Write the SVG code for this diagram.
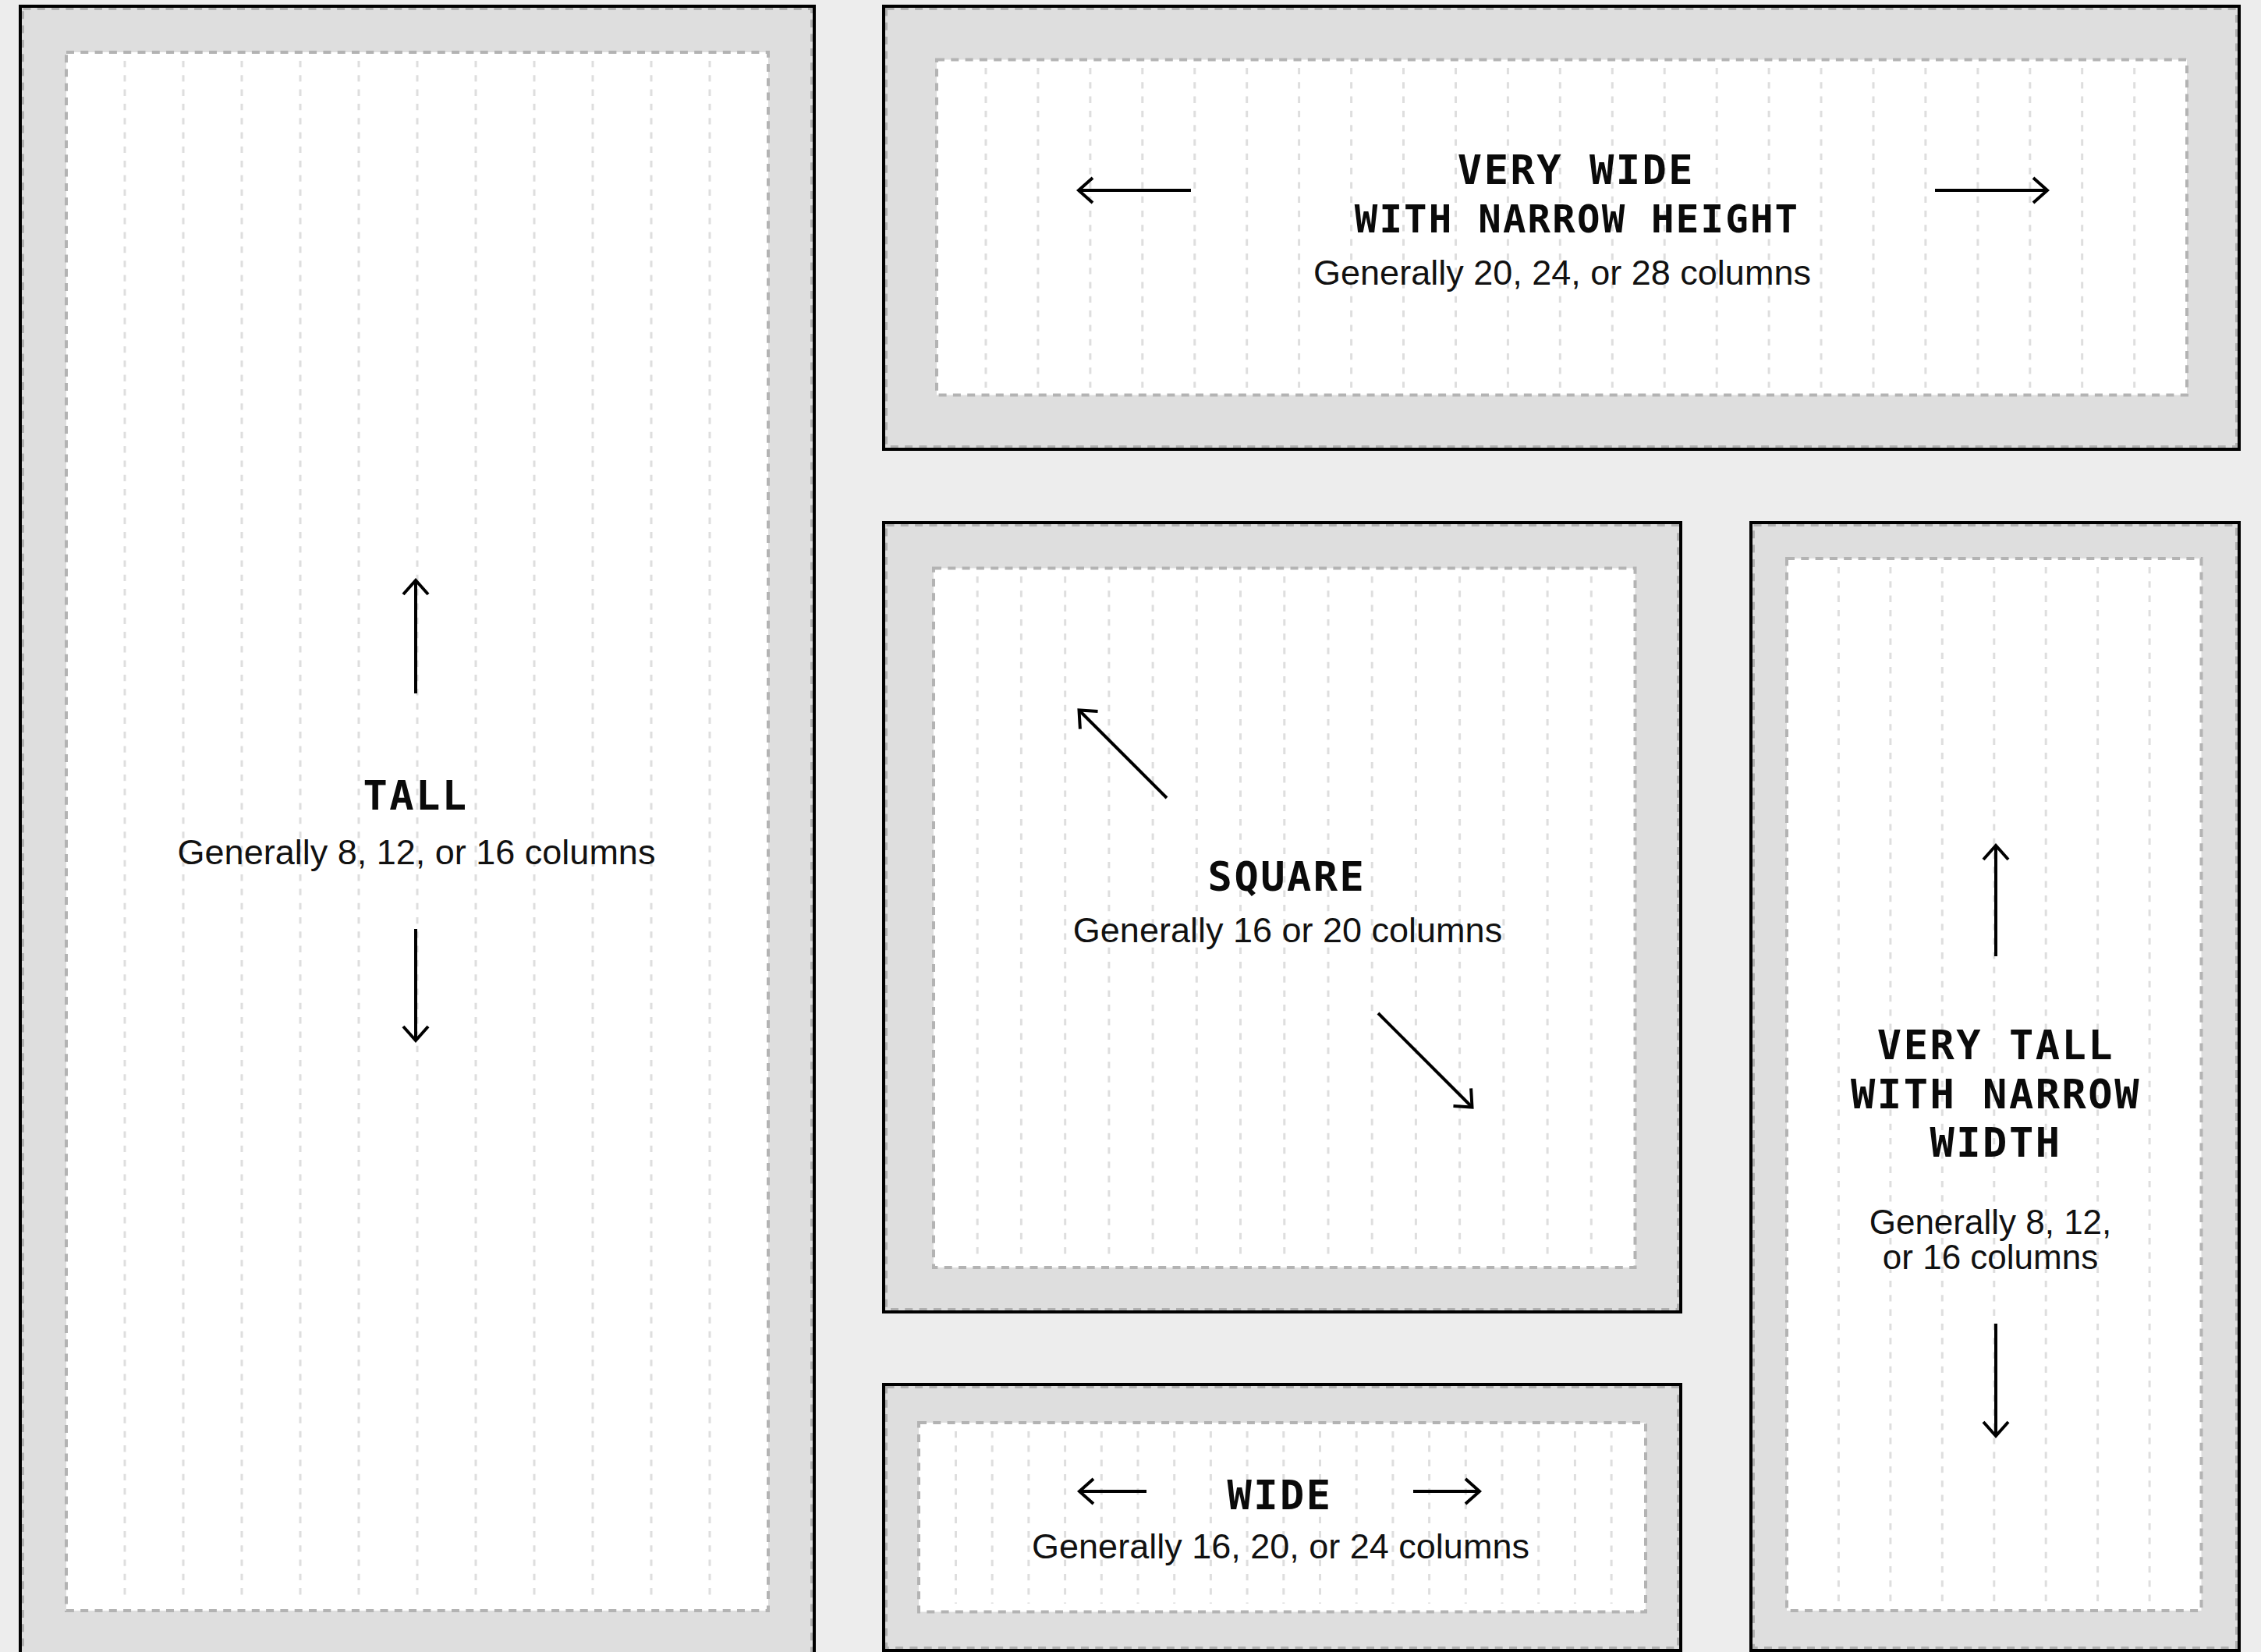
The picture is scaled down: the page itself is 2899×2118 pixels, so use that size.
<svg xmlns="http://www.w3.org/2000/svg" width="2899" height="2118" viewBox="0 0 2899 2118">
<defs>
<style>
.outer{fill:#dedede;stroke:#000;stroke-width:4}
.outin{fill:none;stroke:#b0b0b0;stroke-width:3;stroke-dasharray:10 8.3}
.inner{fill:#fff;stroke:#b3b3b3;stroke-width:4;stroke-dasharray:10 8.3}
.cols{fill:none;stroke:#dedede;stroke-width:3;stroke-dasharray:8.3 10}
.title{font-family:"DejaVu Sans Mono","Liberation Mono",monospace;font-weight:bold;font-size:52px;letter-spacing:2.5px;fill:#0a0a0a;text-anchor:middle}
.sub{font-family:"Liberation Sans",Arial,sans-serif;font-size:45px;fill:#111;text-anchor:middle}
.arrow{fill:none;stroke:#000;stroke-width:4;marker-end:url(#head)}
</style>
<marker id="head" markerUnits="userSpaceOnUse" orient="auto" refX="0" refY="0" viewBox="-24 -22 30 44" markerWidth="30" markerHeight="44" overflow="visible">
<path d="M-18,-16 L0,0 L-18,16" fill="none" stroke="#000" stroke-width="4" stroke-linecap="butt" stroke-linejoin="miter"/>
</marker>
</defs>
<rect x="0" y="0" width="2899" height="2118" fill="#ededed"/>

<g id="tall">
<rect class="outer" x="26" y="8" width="1018" height="2150"/>
<rect class="outin" x="29.5" y="11.5" width="1011" height="2143"/>
<rect class="inner" x="85" y="67" width="900" height="1998"/>
<path class="cols" d="M160,78V2054M235,78V2054M310,78V2054M385,78V2054M460,78V2054M535,78V2054M610,78V2054M685,78V2054M760,78V2054M835,78V2054M910,78V2054"/>
<text class="title" x="533" y="1038">TALL</text>
<text class="sub" x="534" y="1108">Generally 8, 12, or 16 columns</text>
</g>

<g id="very-wide">
<rect class="outer" x="1133" y="8" width="1738" height="568"/>
<rect class="outin" x="1136.5" y="11.5" width="1731" height="561"/>
<rect class="inner" x="1201" y="76.5" width="1603" height="430"/>
<path class="cols" d="M1264,87V497M1330.9,87V497M1397.9,87V497M1464.8,87V497M1531.8,87V497M1598.7,87V497M1665.6,87V497M1732.6,87V497M1799.5,87V497M1866.5,87V497M1933.4,87V497M2000.3,87V497M2067.3,87V497M2134.2,87V497M2201.2,87V497M2268.1,87V497M2335,87V497M2402,87V497M2468.9,87V497M2535.9,87V497M2602.8,87V497M2669.7,87V497M2736.7,87V497"/>
<text class="title" x="2021" y="236">VERY WIDE</text>
<text class="title" x="2022" y="298" style="font-size:49px;letter-spacing:2.2px">WITH NARROW HEIGHT</text>
<text class="sub" x="2003" y="365">Generally 20, 24, or 28 columns</text>
</g>

<g id="square">
<rect class="outer" x="1133" y="670" width="1022" height="1012"/>
<rect class="outin" x="1136.5" y="673.5" width="1015" height="1005"/>
<rect class="inner" x="1197" y="728.5" width="899.5" height="896.5"/>
<path class="cols" d="M1253.2,739V1615M1309.4,739V1615M1365.7,739V1615M1421.9,739V1615M1478.1,739V1615M1534.3,739V1615M1590.5,739V1615M1646.8,739V1615M1703,739V1615M1759.2,739V1615M1815.4,739V1615M1871.6,739V1615M1927.9,739V1615M1984.1,739V1615M2040.3,739V1615"/>
<text class="title" x="1650" y="1142">SQUARE</text>
<text class="sub" x="1651" y="1208">Generally 16 or 20 columns</text>
</g>

<g id="wide">
<rect class="outer" x="1133" y="1775" width="1022" height="341"/>
<rect class="outin" x="1136.5" y="1778.5" width="1015" height="334"/>
<rect class="inner" x="1178" y="1824" width="932" height="242.5"/>
<path class="cols" d="M1225.5,1835V2056M1272.2,1835V2056M1318.9,1835V2056M1365.6,1835V2056M1412.3,1835V2056M1459,1835V2056M1505.7,1835V2056M1552.4,1835V2056M1599.1,1835V2056M1645.8,1835V2056M1692.5,1835V2056M1739.2,1835V2056M1785.9,1835V2056M1832.6,1835V2056M1879.3,1835V2056M1926,1835V2056M1972.7,1835V2056M2019.4,1835V2056M2066.1,1835V2056"/>
<text class="title" x="1641" y="1935">WIDE</text>
<text class="sub" x="1642" y="1998">Generally 16, 20, or 24 columns</text>
</g>

<g id="very-tall">
<rect class="outer" x="2245" y="670" width="626" height="1446"/>
<rect class="outin" x="2248.5" y="673.5" width="619" height="1439"/>
<rect class="inner" x="2291" y="716" width="531.5" height="1349"/>
<path class="cols" d="M2357.4,727V2054M2423.9,727V2054M2490.3,727V2054M2556.8,727V2054M2623.2,727V2054M2689.6,727V2054M2756.1,727V2054"/>
<text class="title" x="2559" y="1358">VERY TALL</text>
<text class="title" x="2559" y="1421">WITH NARROW</text>
<text class="title" x="2559" y="1483">WIDTH</text>
<text class="sub" x="2552" y="1582" style="font-size:44px">Generally 8, 12,</text>
<text class="sub" x="2552" y="1627" style="font-size:44px">or 16 columns</text>
</g>

<g id="connectors">
<path class="arrow" d="M1527,244H1383"/>
<path class="arrow" d="M2481,244H2625"/>
<path class="arrow" d="M533,889V744"/>
<path class="arrow" d="M533,1191V1334"/>
<path class="arrow" d="M1496,1023L1383.5,910.5"/>
<path class="arrow" d="M1767,1299L1887.5,1419.5"/>
<path class="arrow" d="M2559,1226V1084"/>
<path class="arrow" d="M2559,1697V1841"/>
<path class="arrow" d="M1470,1912H1384"/>
<path class="arrow" d="M1812,1912H1897"/>
</g>
</svg>
